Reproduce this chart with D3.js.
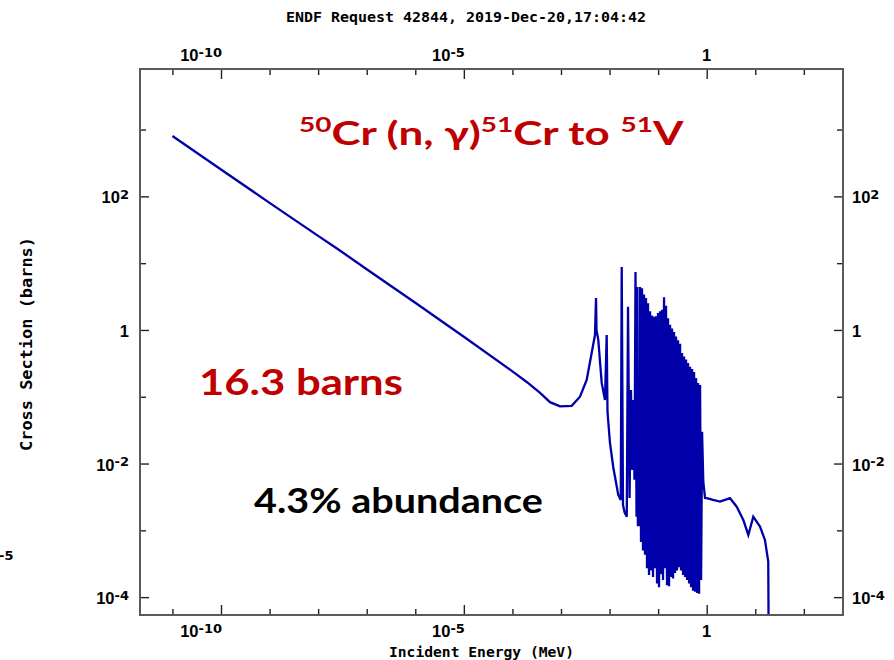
<!DOCTYPE html>
<html><head><meta charset="utf-8">
<script src="https://cdn.jsdelivr.net/npm/d3@7"></script>
<style>body{margin:0;background:#fff} svg{display:block}</style>
</head><body>
<svg id="c" width="894" height="660"></svg>
<script>
// ---- data ----
const energy = [
  1.0e-11, 1.0e-10, 1.0e-9, 1.0e-8, 2.53e-8, 1.0e-7, 1.0e-6, 1.0e-5, 1.0e-4, 2.0e-4,
  3.71e-4, 5.94e-4, 9.55e-4, 1.66e-3, 2.46e-3, 3.38e-3, 4.28e-3, 5.01e-3, 5.26e-3, 5.39e-3,
  5.86e-3, 6.89e-3, 8.05e-3, 8.73e-3, 9.07e-3, 0.0102, 0.0119, 0.0151, 0.0170, 0.0178,
  0.0189, 0.0203, 0.0226, 0.0240, 0.0258, 0.0276, 0.0294, 0.0311, 0.0326, 0.0342,
  0.0359, 0.0372, 0.0383, 0.0414,
  0.04235, 0.04441, 0.04657, 0.04883, 0.05121, 0.05369, 0.05630, 0.05904, 0.06191, 0.06492,
  0.06807, 0.07138, 0.07485, 0.07849, 0.08230, 0.08630, 0.09050, 0.09490, 0.09951, 0.1043,
  0.1094, 0.1147, 0.1203, 0.1262, 0.1323, 0.1387, 0.1455, 0.1525, 0.1600, 0.1677,
  0.1759, 0.1844, 0.1934, 0.2028, 0.2127, 0.2230, 0.2338, 0.2452, 0.2571, 0.2696,
  0.2827, 0.2965, 0.3109, 0.3260, 0.3418, 0.3584, 0.3759, 0.3941, 0.4133, 0.4334,
  0.4544, 0.4765, 0.4997, 0.5240, 0.5494, 0.5761, 0.6041, 0.6335, 0.6643, 0.6966,
  0.7304, 0.7659,
  0.803, 0.851, 0.923, 1.0, 1.35, 1.88, 2.38, 3.02, 4.15, 5.67, 7.19, 9.10, 12.5, 15.8, 18.5, 19.3
];
const crossSection = [
  800, 253, 80, 25.6, 16.3, 8.1, 2.55, 0.79, 0.24, 0.165,
  0.114, 0.083, 0.072, 0.073, 0.100, 0.178, 0.453, 0.842, 3.01, 1.0,
  0.708, 0.161, 0.0895, 0.842, 0.0592, 0.0203, 0.00889, 0.00339, 0.00285, 8.77,
  0.0024, 0.00188, 0.0016, 2.23, 0.00306, 0.126, 0.0080, 0.0895, 0.0057, 7.37,
  0.0016, 4.4, 0.0012, 0.0012,
  4.4, 6.7e-4, 4.2, 5.0e-4, 3.4, 4.3e-4, 3.0, 2.7e-4, 2.5, 2.15e-4,
  1.9, 2.5e-4, 1.65, 2.0e-4, 1.57, 2.7e-4, 1.6, 1.6e-4, 1.8, 1.4e-4,
  1.9, 2.2e-4, 2.0, 1.8e-4, 3.1, 2.7e-4, 2.3, 1.5e-4, 1.5, 1.45e-4,
  1.2, 2.0e-4, 1.05, 1.9e-4, 0.93, 2.3e-4, 0.80, 2.5e-4, 0.70, 2.8e-4,
  0.62, 2.5e-4, 0.45, 2.15e-4, 0.40, 2.0e-4, 0.36, 1.8e-4, 0.32, 1.6e-4,
  0.28, 1.4e-4, 0.26, 1.25e-4, 0.235, 1.2e-4, 0.19, 1.15e-4, 0.16, 1.12e-4,
  0.15, 1.8e-4,
  0.03, 0.0053, 0.00306, 0.00303, 0.00285, 0.00269, 0.00285, 0.00303, 0.00226, 0.00143,
  8.53e-4, 0.0016, 0.00114, 7.18e-4, 3.4e-4, 1e-6
];
const xDomain = [2.15e-12, 640];
const yDomain = [5.4e-5, 8070];
const xTickExps = [-11, -10, -9, -8, -7, -6, -5, -4, -3, -2, -1, 0, 1, 2];
const xLabelExps = [-10, -5, 0];
const yTickExps = [-4, -3, -2, -1, 0, 1, 2, 3];
const yLabelExps = [-4, -2, 0, 2];
const titleText = "ENDF Request 42844, 2019-Dec-20,17:04:42";
const xTitle = "Incident Energy (MeV)";
const yTitle = "Cross Section (barns)";

// ---- layout ----
const L = 140, R = 843, T = 69, B = 615;
const svg = d3.select("#c");
const x = d3.scaleLog().domain(xDomain).range([L, R]);
const y = d3.scaleLog().domain(yDomain).range([B, T]);
const tickFont = "Liberation Sans, Arial, sans-serif";
const supFont = "DejaVu Sans, sans-serif";
const monoFont = "DejaVu Sans Mono, Liberation Mono, monospace";

svg.append("rect").attr("width", 894).attr("height", 660).attr("fill", "#fff");

// clip
svg.append("clipPath").attr("id", "plotclip").append("rect")
  .attr("x", L).attr("y", T).attr("width", R - L).attr("height", B - T);

// data line
const pts = energy.map((e, i) => [e, crossSection[i]]);
svg.append("path")
  .datum(pts)
  .attr("clip-path", "url(#plotclip)")
  .attr("fill", "none")
  .attr("stroke", "#0000AA")
  .attr("stroke-width", 2.3)
  .attr("stroke-linejoin", "miter")
  .attr("d", d3.line().x(d => x(d[0])).y(d => y(d[1])));

// axes
const xMinor = xTickExps.filter(e => !xLabelExps.includes(e)).map(e => Math.pow(10, e));
const xMajor = xLabelExps.map(e => Math.pow(10, e));
const yMinor = yTickExps.filter(e => !yLabelExps.includes(e)).map(e => Math.pow(10, e));
const yMajor = yLabelExps.map(e => Math.pow(10, e));

function addAxis(gen, tx, ty, vals, size) {
  const g = svg.append("g").attr("transform", `translate(${tx},${ty})`)
    .call(gen.tickValues(vals).tickSize(-size).tickSizeOuter(0).tickFormat(""));
  g.select(".domain").remove();
  g.selectAll(".tick line").attr("stroke", "#222").attr("stroke-width", 1.4);
}
addAxis(d3.axisBottom(x), 0, B, xMinor, 6);
addAxis(d3.axisBottom(x), 0, B, xMajor, 10);
addAxis(d3.axisTop(x), 0, T, xMinor, 6);
addAxis(d3.axisTop(x), 0, T, xMajor, 10);
addAxis(d3.axisLeft(y), L, 0, yMinor, 6);
addAxis(d3.axisLeft(y), L, 0, yMajor, 9);
addAxis(d3.axisRight(y), R, 0, yMinor, 6);
addAxis(d3.axisRight(y), R, 0, yMajor, 9);

// frame
svg.append("rect").attr("x", L).attr("y", T).attr("width", R - L).attr("height", B - T)
  .attr("fill", "none").attr("stroke", "#5a5a5a").attr("stroke-width", 2);

// power-of-ten label
function powLabel(px, py, exp, anchor) {
  const t = svg.append("text").attr("x", px).attr("y", py)
    .attr("font-family", tickFont).attr("font-weight", "bold").attr("font-size", 16.5).attr("fill", "#000")
    .attr("text-anchor", anchor);
  if (exp === 0) { t.text("1"); return t; }
  t.append("tspan").text("10");
  t.append("tspan").attr("font-family", supFont).attr("font-weight", "bold")
    .attr("font-size", 13).attr("dy", -4.5).text(exp < 0 ? "-" + (-exp) : String(exp));
  return t;
}
xLabelExps.forEach(e => {
  const px = x(Math.pow(10, e));
  const anchor = e === 0 ? "middle" : "end";
  const ox = e === 0 ? 0 : 1;
  powLabel(px + ox, 637, e, anchor);
  powLabel(px + ox, 61, e, anchor);
});
yLabelExps.forEach(e => {
  const py = y(Math.pow(10, e)) + 7;
  powLabel(129, py, e, "end");
  powLabel(852, py, e, "start");
});

// stray fragment at left edge
svg.append("text").attr("x", -1).attr("y", 560).attr("font-family", supFont)
  .attr("font-weight", "bold").attr("font-size", 13).attr("fill", "#000").text("-5");

// titles
svg.append("text").attr("x", 286).attr("y", 22).attr("font-family", monoFont)
  .attr("font-weight", "bold").attr("font-size", 14).attr("fill", "#000")
  .attr("textLength", 360).attr("lengthAdjust", "spacingAndGlyphs").text(titleText);
svg.append("text").attr("x", 389).attr("y", 657).attr("font-family", monoFont)
  .attr("font-weight", "bold").attr("font-size", 14).attr("fill", "#000")
  .attr("textLength", 185).attr("lengthAdjust", "spacingAndGlyphs").text(xTitle);
svg.append("text").attr("transform", "translate(32,451) rotate(-90)")
  .attr("font-family", monoFont).attr("font-weight", "bold").attr("font-size", 15).attr("fill", "#000")
  .attr("textLength", 214).attr("lengthAdjust", "spacingAndGlyphs").text(yTitle);

// annotations
const annFont = "Lato, 'Open Sans', sans-serif";
function fitWidth(t, x0, w) {
  const bw = t.node().getBBox().width;
  const k = w / bw;
  t.attr("transform", `translate(${x0},0) scale(${k},1) translate(${-x0},0)`);
}
const a1 = svg.append("text").attr("x", 299).attr("y", 145).attr("font-family", annFont)
  .attr("font-weight", "bold").attr("font-size", 33).attr("fill", "#C00000");
[["50", true], ["Cr (n, γ)", false], ["51", true], ["Cr to ", false], ["51", true], ["V", false]]
  .forEach(([s, sup]) => {
    const ts = a1.append("tspan").text(s);
    if (sup) ts.attr("font-size", 21).attr("dy", -13);
    else ts.attr("dy", 13);
  });
fitWidth(a1, 299, 386);

const a2 = svg.append("text").attr("x", 199).attr("y", 395).attr("font-family", annFont)
  .attr("font-weight", "bold").attr("font-size", 37).attr("fill", "#C00000").text("16.3 barns");
fitWidth(a2, 199, 204);
const a3 = svg.append("text").attr("x", 254).attr("y", 513).attr("font-family", annFont)
  .attr("font-weight", "bold").attr("font-size", 35).attr("fill", "#000").text("4.3% abundance");
fitWidth(a3, 254, 289);
</script>
</body></html>
